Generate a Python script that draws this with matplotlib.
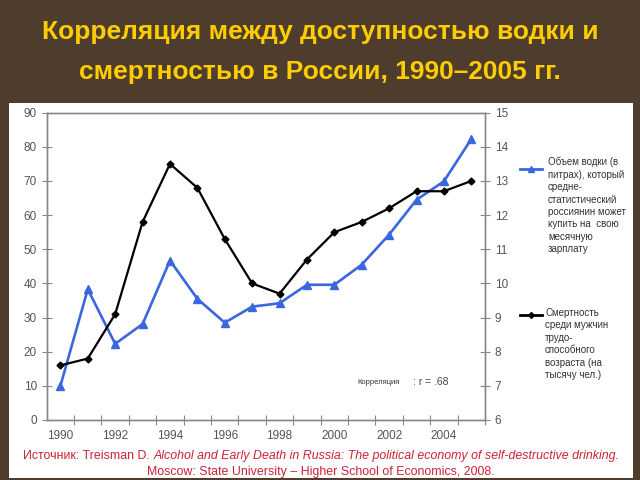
import matplotlib
matplotlib.use("Agg")
import matplotlib.pyplot as plt
from matplotlib.patches import Rectangle
from matplotlib.lines import Line2D

plt.rcParams["font.family"] = ["Liberation Sans", "DejaVu Sans"]

years = list(range(1990, 2006))
# vodka volume (litres per monthly wage), left axis
vodka = [10.0, 38.3, 22.3, 28.1, 46.7, 35.5, 28.5, 33.2, 34.2, 39.6,
         39.6, 45.5, 54.3, 64.5, 69.9, 82.3]
# mortality of working-age men (per 1000), right axis
mortality = [7.6, 7.8, 9.1, 11.8, 13.5, 12.8, 11.3, 10.0, 9.7, 10.7,
             11.5, 11.8, 12.2, 12.7, 12.7, 13.0]

W, H = 640, 480
fig = plt.figure(figsize=(6.4, 4.8), dpi=100, facecolor="#4e3d2c")

# white slide panel
fig.add_artist(Rectangle((9 / W, 1 - 478 / H), 624 / W, 375 / H,
                         transform=fig.transFigure, facecolor="white",
                         edgecolor="none", zorder=0))

fig.text(0.5, 1 - 32 / H, "Корреляция между доступностью водки и",
         ha="center", va="center", color="#ffcc00", fontsize=19,
         fontweight="bold")
fig.text(0.5, 1 - 72 / H, "смертностью в России, 1990–2005 гг.",
         ha="center", va="center", color="#ffcc00", fontsize=19,
         fontweight="bold")

ax = fig.add_axes([46.7 / W, 1 - 420 / H, (485 - 46.7) / W, (420 - 112.7) / H])
ax.set_facecolor("none")
ax2 = ax.twinx()

ax.plot(years, vodka, color="#3b66dd", lw=1.9, marker="^", ms=5.5, zorder=3)
ax2.plot(years, mortality, color="black", lw=1.6, marker="D", ms=3.5, zorder=3)

ax.set_ylim(0, 90)
ax2.set_ylim(6, 15)
ax.set_xlim(years[0] - 0.5, years[-1] + 0.5)
ax.set_yticks(range(0, 91, 10))
ax2.set_yticks(range(6, 16))

# category-style x axis: ticks between years, labels under even years
ax.set_xticks([y - 0.5 for y in years[1:]] + [years[-1] + 0.5])
ax.set_xticklabels([])
ax.set_xticks(years[::2], minor=True)
ax.set_xticklabels([str(y) for y in years[::2]], minor=True)
ax.tick_params(axis="x", which="minor", length=0, pad=7)

for a in (ax, ax2):
    for s in a.spines.values():
        s.set_color("#888888")
        s.set_linewidth(1.0)
    a.tick_params(which="major", direction="inout", length=7, color="#888888",
                  labelcolor="#555555", labelsize=8.5)
    a.tick_params(which="minor", labelcolor="#555555", labelsize=8.5)

# legend drawn by hand on the right
lx = [520 / W, 531 / W, 542 / W]
fig.add_artist(Line2D(lx, [1 - 169 / H] * 3, color="#3b66dd", lw=2,
                      marker="^", ms=5, markevery=[1], transform=fig.transFigure))
fig.add_artist(Line2D(lx, [1 - 315 / H] * 3, color="black", lw=2,
                      marker="D", ms=3, markevery=[1], transform=fig.transFigure))
fig.text(548 / W, 1 - 157 / H,
         "Объем водки (в\nпитрах), который\nсредне-\nстатистический\n"
         "россиянин может\nкупить на  свою\nмесячную\nзарплату",
         ha="left", va="top", fontsize=7.0, color="#333333", linespacing=1.3)
fig.text(545 / W, 1 - 308 / H,
         "Смертность\nсреди мужчин\nтрудо-\nспособного\nвозраста (на\nтысячу чел.)",
         ha="left", va="top", fontsize=7.0, color="#333333", linespacing=1.3)

fig.text(357 / W, 1 - 382 / H, "Корреляция", ha="left", va="center",
         fontsize=5.5, color="#333333")
fig.text(413 / W, 1 - 382 / H, ": r = .68", ha="left", va="center",
         fontsize=7.5, color="#444444")

# source note, normal + italic on the first line
red = "#cc2233"
renderer = fig.canvas.get_renderer()
t1 = fig.text(0, 1 - 456 / H, "Источник: Treisman D. ", ha="left", va="center",
              fontsize=8.9, color=red)
t2 = fig.text(0, 1 - 456 / H,
              "Alcohol and Early Death in Russia: The political economy of self-destructive drinking.",
              ha="left", va="center", fontsize=8.9, color=red, style="italic")
w1 = t1.get_window_extent(renderer).width
w2 = t2.get_window_extent(renderer).width
x0 = (W / 2 + 1 - (w1 + w2) / 2)
t1.set_x(x0 / W)
t2.set_x((x0 + w1) / W)
fig.text(321 / W, 1 - 472 / H,
         "Moscow: State University – Higher School of Economics, 2008.",
         ha="center", va="center", fontsize=8.9, color=red)

fig.savefig("out.png", dpi=100, facecolor=fig.get_facecolor())
